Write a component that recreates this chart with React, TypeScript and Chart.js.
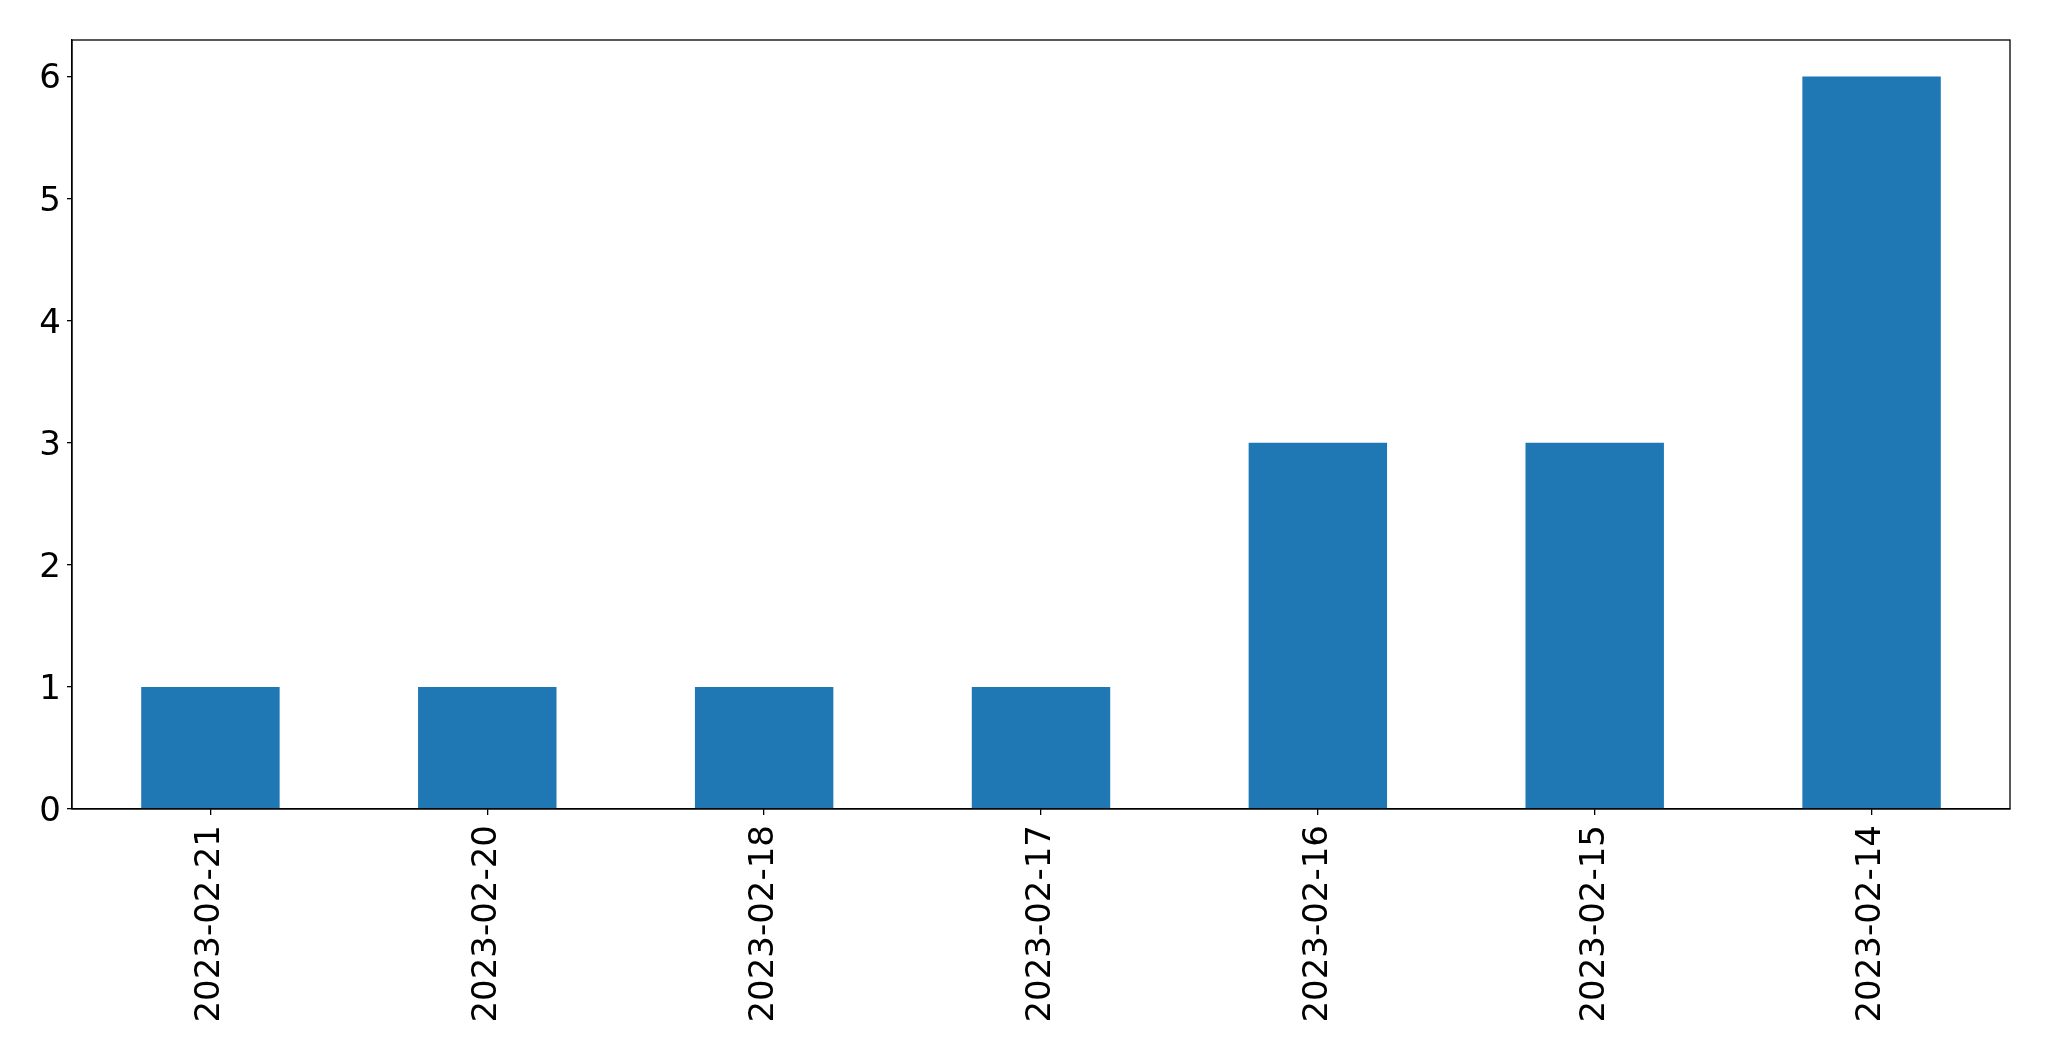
import React, { useEffect, useRef } from "react";
import { Chart, registerables } from "chart.js";

Chart.register(...registerables);

const categories = ["2023-02-21", "2023-02-20", "2023-02-18", "2023-02-17", "2023-02-16", "2023-02-15", "2023-02-14"];
const counts = [1, 1, 1, 1, 3, 3, 6];
const yTicks = [0, 1, 2, 3, 4, 5, 6];
const yMax = 6.3;

const W = 2049;
const H = 1061;

const frame = {
  id: "frame",
  afterDatasetsDraw(chart: any) {
    const { ctx, chartArea } = chart;
    ctx.save();
    ctx.strokeStyle = "#000";
    ctx.lineWidth = 1.3;
    ctx.strokeRect(chartArea.left, chartArea.top, chartArea.right - chartArea.left, chartArea.bottom - chartArea.top);
    ctx.restore();
  },
};

export default function App() {
  const ref = useRef<HTMLCanvasElement | null>(null);
  useEffect(() => {
    if (!ref.current) return;
    const font = { family: "'DejaVu Sans', sans-serif", size: 34 };
    const chart = new Chart(ref.current, {
      type: "bar",
      data: {
        labels: categories,
        datasets: [
          {
            data: counts,
            backgroundColor: "#1f77b4",
            borderWidth: 0,
            barPercentage: 0.5,
            categoryPercentage: 1,
          },
        ],
      },
      options: {
        animation: false,
        responsive: false,
        maintainAspectRatio: false,
        devicePixelRatio: 1,
        layout: { padding: { top: 40, right: 39, left: 0, bottom: 0 } },
        plugins: { legend: { display: false }, tooltip: { enabled: false } },
        scales: {
          x: {
            offset: true,
            grid: { display: true, drawOnChartArea: false, drawTicks: true, tickLength: 6, tickColor: "#000", lineWidth: 1.3, offset: false },
            border: { display: true, color: "#000", width: 1.3 },
            ticks: { color: "#000", font, minRotation: 90, maxRotation: 90, padding: 10, autoSkip: false },
            afterFit: (s: any) => {
              s.height = H - 809;
            },
          },
          y: {
            min: 0,
            max: yMax,
            grid: { display: true, drawOnChartArea: false, drawTicks: true, tickLength: 5, tickColor: "#000", lineWidth: 1.3 },
            border: { display: true, color: "#000", width: 1.3 },
            ticks: { color: "#000", font, padding: 6, labelOffset: 3 },
            afterBuildTicks: (s: any) => {
              s.ticks = yTicks.map((v) => ({ value: v }));
            },
            afterFit: (s: any) => {
              s.width = 72;
            },
          },
        },
      },
      plugins: [frame],
    });
    return () => chart.destroy();
  }, []);
  return (
    <div style={{ position: "fixed", left: 0, top: 0, width: W, height: H, background: "#fff" }}>
      <canvas ref={ref} width={W} height={H} style={{ width: W, height: H }} />
    </div>
  );
}
